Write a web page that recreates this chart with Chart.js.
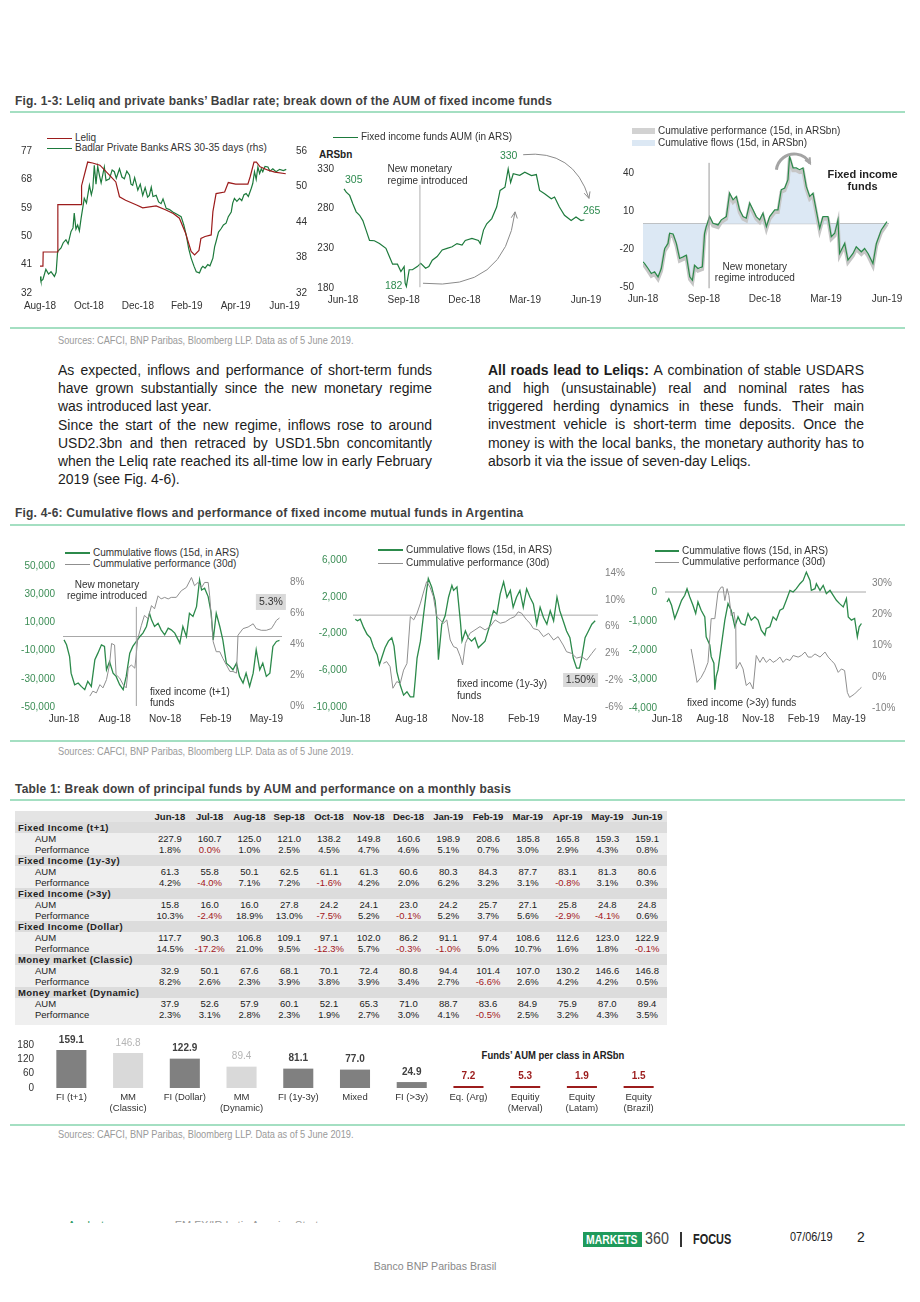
<!DOCTYPE html>
<html>
<head>
<meta charset="utf-8">
<title>Fixed income funds - Argentina</title>
<script src="https://cdn.jsdelivr.net/npm/chart.js@4.4.1/dist/chart.umd.min.js"></script>
<style>
body { margin:0; width:920px; height:1302px; position:relative; overflow:hidden; background:#fff;
  font-family:"Liberation Sans", Arial, sans-serif; color:#1a1a1a; }
.a { position:absolute; white-space:nowrap; }
.sq { transform:scaleX(0.84); transform-origin:0 0; }
.mid { transform:translateX(-50%) scaleX(0.86); }
.fig { left:15px; font-size:12px; line-height:14px; font-weight:bold; color:#404040; letter-spacing:0.2px; }
.rule { position:absolute; left:10px; width:895px; height:2px; background:#a4dfc2; }
.src { left:58px; font-size:10.5px; line-height:12px; color:#9a9a9a; transform:scaleX(0.88); transform-origin:0 0; }
.ln { position:absolute; height:18px; line-height:18px; font-size:15.5px; display:flex; justify-content:space-between; white-space:nowrap;
  transform:scaleX(0.9); transform-origin:0 0; color:#1c1c1c; }
.ln.end { display:block; }
.lg { position:absolute; font-size:10px; line-height:12px; color:#333; white-space:nowrap; }
canvas { position:absolute; }
.trow { position:relative; height:11px; line-height:11px; }
.trow span { position:absolute; top:0; text-align:center; width:39.77px; }
.trow .lab { text-align:left; width:auto; }
</style>
</head>
<body>
<div class="a fig" style="top:94px">Fig. 1-3: Leliq and private banks’ Badlar rate; break down of the AUM of fixed income funds</div>
<div class="rule" style="top:111px"></div>
<div class="rule" style="top:327px"></div>
<div class="a src" style="top:334px">Sources: CAFCI, BNP Paribas, Bloomberg LLP. Data as of 5 June 2019.</div>
<div class="a fig" style="top:506px">Fig. 4-6: Cumulative flows and performance of fixed income mutual funds in Argentina</div>
<div class="rule" style="top:524px"></div>
<div class="rule" style="top:740px"></div>
<div class="a src" style="top:745px">Sources: CAFCI, BNP Paribas, Bloomberg LLP. Data as of 5 June 2019.</div>
<div class="a fig" style="top:782px">Table 1: Break down of principal funds by AUM and performance on a monthly basis</div>
<div class="rule" style="top:799px"></div>
<div class="rule" style="top:1124px"></div>
<div class="a src" style="top:1128px">Sources: CAFCI, BNP Paribas, Bloomberg LLP. Data as of 5 June 2019.</div>

<div class="a" style="left:319px;top:149px;font-size:10px;font-weight:bold;color:#222">ARSbn</div>
<div class="a mid" style="left:553px;top:1049px;font-size:11px;font-weight:bold;color:#222">Funds’ AUM per class in ARSbn</div>

<!-- footer -->
<div class="a" style="left:68px;top:1219px;height:4px;overflow:hidden;font-size:11px;line-height:13px">
  <span style="color:#2a9a63">Analyst name</span><span style="color:#999;margin-left:40px">EM FX/IR Latin America Strategy</span>
</div>
<div class="a" style="left:583px;top:1232px;width:59px;height:15px;background:#1f9a5b;overflow:hidden">
  <div class="a" style="left:3px;top:0;font-weight:bold;font-size:13px;line-height:15px;color:#fff;transform:scaleX(0.8);transform-origin:0 0">MARKETS</div>
</div>
<div class="a sq" style="left:645px;top:1230px;font-size:17px;line-height:18px;color:#444">360</div>
<div class="a" style="left:680px;top:1232px;width:1.5px;height:15px;background:#333"></div>
<div class="a sq" style="left:693px;top:1231px;font-size:14px;line-height:16px;font-weight:bold;color:#222;transform:scaleX(0.78)">FOCUS</div>
<div class="a sq" style="left:790px;top:1229px;font-size:13px;line-height:16px;color:#222">07/06/19</div>
<div class="a" style="left:857px;top:1229px;font-size:14px;line-height:16px;color:#222">2</div>
<div class="a" style="left:435px;top:1259px;font-size:11.5px;line-height:14px;color:#888;transform:translateX(-50%) scaleX(0.92)">Banco BNP Paribas Brasil</div>

<script>
// ---------------- data ----------------
// Fig 1: months since Aug-18, rate in %
const leliqRate = [[0,40.5],[0.12,40.5],[0.13,45],[0.72,45],[0.73,60],[1.68,60],[1.7,66],[1.85,70.5],[1.95,73.5],[2.15,73.2],[2.45,72.5],[2.85,69.3],[3.1,67.2],[3.25,62.5],[3.5,61.4],[3.95,59.9],[4.2,59],[4.75,59.6],[5.15,58.3],[5.45,57.2],[5.7,55.7],[5.95,51],[6.18,45.2],[6.32,44.1],[6.5,45.5],[6.58,49.3],[6.75,49.9],[7.0,50.4],[7.07,57.8],[7.2,63.5],[7.55,64],[7.7,67],[8.0,66.5],[8.5,66.5],[8.6,69],[8.75,73.5],[8.85,73.5],[9.0,72],[9.3,71],[9.6,70.3],[10.05,69.8]];
const badlarRate = [[0,34.8],[0.04,34],[0.12,34.3],[0.24,36],[0.35,35.2],[0.45,35.6],[0.59,34.8],[0.66,35.5],[0.72,39],[0.86,39.6],[0.95,40.5],[1.06,41],[1.15,40.3],[1.27,42.4],[1.35,43],[1.4,45.5],[1.47,42.8],[1.54,43.5],[1.61,42.5],[1.68,44.6],[1.81,48],[1.9,47.2],[2.02,50.2],[2.1,48.6],[2.16,49.7],[2.22,53.6],[2.29,50.4],[2.36,53.4],[2.43,51.9],[2.5,50.6],[2.63,53.3],[2.7,51],[2.84,51.3],[2.95,52.8],[3.04,52.5],[3.12,51.4],[3.25,53],[3.35,51.6],[3.45,51.3],[3.55,52.6],[3.66,51.9],[3.72,50.4],[3.79,50.2],[3.87,51.5],[4.0,49.4],[4.1,50.4],[4.2,48.5],[4.3,49.8],[4.4,48.2],[4.47,48.5],[4.55,49.9],[4.62,48.3],[4.75,48.5],[4.85,47.4],[4.95,47.1],[5.03,47.9],[5.16,46.3],[5.3,46.1],[5.43,45.7],[5.6,45.3],[5.77,44.9],[5.88,43.5],[5.98,41.8],[6.08,39.5],[6.18,37.9],[6.3,36.5],[6.39,35.6],[6.52,35.4],[6.6,36.2],[6.66,36.5],[6.75,36.2],[6.86,36.8],[6.95,36.6],[7.07,37.9],[7.14,39.8],[7.2,40.7],[7.3,42.3],[7.41,42.9],[7.5,43.5],[7.61,43.8],[7.7,44.9],[7.82,45.7],[7.88,47.2],[7.95,48],[8.05,47.5],[8.16,48],[8.25,47.6],[8.34,48.6],[8.43,48.8],[8.52,48.3],[8.64,49.7],[8.7,50.5],[8.77,52.5],[8.84,51.2],[8.91,53.3],[8.98,52.2],[9.05,53.0],[9.11,52.5],[9.2,53.4],[9.32,53.3],[9.4,52.6],[9.52,53],[9.65,52.5],[9.8,52.9],[9.95,52.7],[10.07,52.9]];
const fig1Ticks = [0, 2, 4, 6, 8, 10];
const fig1Labels = ['Aug-18', 'Oct-18', 'Dec-18', 'Feb-19', 'Apr-19', 'Jun-19'];
const fig1LeftTicks = [32, 41, 50, 59, 68, 77];
const fig1RightTicks = [32, 38, 44, 50, 56];

// Fig 2: months since Jun-18, AUM ARSbn
const fundAum = [[0.05,305],[0.16,300.8],[0.33,296.7],[0.49,286],[0.65,276],[0.82,271.7],[0.98,265],[1.14,253],[1.31,240],[1.55,239.6],[1.8,236],[2.12,230],[2.29,219.6],[2.45,210],[2.69,210],[2.86,200.8],[3.02,207],[3.07,186],[3.13,182],[3.27,203],[3.43,203],[3.67,207],[3.84,211],[4.08,205],[4.24,207],[4.41,215],[4.65,219.6],[4.9,228],[5.14,230],[5.39,232],[5.63,236],[5.88,234],[6.04,240],[6.37,242.5],[6.69,240],[6.78,236],[6.94,253],[7.1,261],[7.35,267.5],[7.59,282],[7.76,303],[8.0,307],[8.16,330],[8.28,313],[8.41,324],[8.73,322],[8.98,326],[9.31,321.7],[9.55,323],[9.71,303],[9.96,298.7],[10.29,292.5],[10.45,294.6],[10.69,282],[10.94,271.7],[11.27,265],[11.51,269.6],[11.76,265],[11.92,266]];
const quarterTicks = [0, 3, 6, 9, 12];
const quarterLabels = ['Jun-18', 'Sep-18', 'Dec-18', 'Mar-19', 'Jun-19'];
const fig2Ticks = [180, 230, 280, 330];

// Fig 3: months since Jun-18, cumulative flows ARSbn
const cumFlows = [[0,-30.1],[0.08,-31.5],[0.25,-35.4],[0.41,-39.4],[0.57,-38],[0.74,-42],[0.9,-35.4],[1.07,-19.6],[1.23,-15.6],[1.31,-7.6],[1.48,-8.2],[1.64,-15.6],[1.8,-27.5],[1.97,-26.2],[2.13,-24.9],[2.3,-42],[2.43,-44.7],[2.54,-32.8],[2.7,-35.4],[2.92,-34.1],[3.03,-7.6],[3.11,-2.4],[3.28,5.6],[3.44,0.3],[3.69,-1],[3.85,3],[4.1,5.6],[4.26,24.1],[4.43,18.8],[4.59,21.5],[4.75,10.9],[4.92,5.6],[5.08,4.3],[5.25,16.2],[5.41,10.9],[5.57,5.6],[5.74,3],[5.9,8.2],[6.07,-2.4],[6.23,5.6],[6.48,10.9],[6.64,10.9],[6.8,26.8],[6.97,28.1],[7.13,34.7],[7.21,53.2],[7.38,44],[7.54,44],[7.7,42.6],[7.87,44],[8.03,29.4],[8.2,21.5],[8.36,24.1],[8.61,3],[8.69,-3.7],[8.85,5.6],[9.1,5.6],[9.26,-10.3],[9.43,-7.6],[9.59,3],[9.67,-23.5],[9.92,-15.6],[10.08,-28.8],[10.33,-23.5],[10.49,-18.2],[10.74,-22.2],[10.9,-19.6],[11.07,-23.5],[11.31,-31.5],[11.48,-15.6],[11.72,-5],[11.89,-1],[12.0,1.6]];
const fig3Ticks = [-50, -20, 10, 40];

// Fig 4-6: position on the Jun-18..May-19 tick grid
const flowTicks = [0, 1, 2, 3, 4];
const flowLabels = ['Jun-18', 'Aug-18', 'Nov-18', 'Feb-19', 'May-19'];

const t1Flows = [[0,-2400],[0.05,-5900],[0.11,-14200],[0.14,-26000],[0.21,-34200],[0.28,-33000],[0.34,-35400],[0.41,-37700],[0.47,-31800],[0.54,-35400],[0.61,-16500],[0.67,-11800],[0.74,-5900],[0.8,-7000],[0.84,-23600],[0.9,-17700],[0.97,-26000],[1.03,-28300],[1.1,-34200],[1.17,-37700],[1.23,-28300],[1.3,-11800],[1.36,-7000],[1.43,-3500],[1.5,0],[1.56,2400],[1.63,7100],[1.69,16500],[1.73,11800],[1.79,7100],[1.86,9400],[1.92,4700],[1.99,1200],[2.06,5900],[2.12,4700],[2.19,2400],[2.29,-4700],[2.35,7100],[2.42,0],[2.48,16500],[2.55,14200],[2.62,21200],[2.68,40100],[2.72,33000],[2.78,34200],[2.85,28300],[2.91,16500],[2.95,-2400],[3.01,16500],[3.08,7100],[3.14,-2400],[3.21,-18900],[3.28,-21200],[3.34,-23600],[3.41,-18900],[3.47,-28300],[3.54,-33000],[3.6,-26000],[3.67,-35400],[3.74,-26000],[3.8,-9400],[3.87,-23600],[3.93,-18900],[4.0,-28300],[4.07,-26000],[4.13,-7000],[4.2,-3500],[4.26,-2800]];
const t1Perf = [[0.51,0.64],[0.57,0.96],[0.64,0.85],[0.71,1.38],[0.77,1.17],[0.84,1.7],[0.9,2.65],[0.94,4.03],[1.0,3.93],[1.03,2.02],[1.1,1.8],[1.17,1.38],[1.23,1.17],[1.27,2.44],[1.33,2.65],[1.4,2.44],[1.46,4.35],[1.53,5.2],[1.59,5.84],[1.66,5.63],[1.73,6.47],[1.79,6.26],[1.86,7.1],[1.92,6.9],[1.99,7.0],[2.06,6.9],[2.12,7.0],[2.22,7.0],[2.32,7.43],[2.42,7.64],[2.52,8.28],[2.58,7.75],[2.65,7.96],[2.72,7.64],[2.78,7.96],[2.85,7.96],[2.88,7.1],[2.95,4.14],[3.01,3.5],[3.08,3.5],[3.14,3.08],[3.21,2.65],[3.28,2.23],[3.34,2.23],[3.41,2.12],[3.44,4.56],[3.54,4.99],[3.64,5.09],[3.74,5.3],[3.8,4.99],[3.9,4.88],[4.0,4.88],[4.1,4.99],[4.16,5.3],[4.2,5.52],[4.26,5.67]];
const t1LeftTicks = [-50000, -30000, -10000, 10000, 30000, 50000];
const t1RightTicks = [0, 2, 4, 6, 8];

const midFlows = [[0,-440],[0.04,-620],[0.09,-440],[0.15,-1360],[0.21,-2090],[0.27,-2460],[0.33,-3560],[0.39,-4300],[0.43,-5400],[0.47,-4670],[0.53,-3560],[0.59,-2830],[0.65,-2460],[0.69,-3380],[0.74,-6140],[0.8,-7610],[0.86,-8710],[0.92,-8340],[0.98,-8900],[1.04,-8900],[1.07,-6870],[1.1,-4670],[1.16,-2830],[1.21,-250],[1.27,2690],[1.3,3980],[1.36,3060],[1.42,1590],[1.45,-250],[1.48,-4850],[1.54,-990],[1.6,-70],[1.66,1950],[1.72,3240],[1.75,2690],[1.81,3060],[1.87,-620],[1.9,-2830],[1.96,-1720],[2.01,-2460],[2.07,-2830],[2.13,-2460],[2.19,-3560],[2.25,-3200],[2.31,-2830],[2.4,-990],[2.46,480],[2.52,110],[2.58,2320],[2.64,3610],[2.7,1950],[2.76,2690],[2.81,850],[2.87,1950],[2.93,2690],[2.99,850],[3.05,2870],[3.11,1950],[3.17,1220],[3.23,-990],[3.29,850],[3.35,-250],[3.41,-990],[3.47,480],[3.53,-620],[3.59,1950],[3.64,480],[3.7,-620],[3.76,-1720],[3.82,-2460],[3.88,-4670],[3.94,-5770],[3.99,-5770],[4.03,-4670],[4.09,-2460],[4.15,-1720],[4.21,-990],[4.27,-620]];
const midPerf = [[0.5,0.52],[0.56,0.77],[0.62,0.02],[0.67,-3.2],[0.74,-2.2],[0.8,-2.5],[0.86,-0.5],[0.92,0.5],[0.98,7.5],[1.04,7.0],[1.1,8.0],[1.16,9.5],[1.21,11],[1.27,12.7],[1.33,11.9],[1.39,10.5],[1.45,7.5],[1.51,7.0],[1.57,6.5],[1.63,7.0],[1.69,4.0],[1.75,3.0],[1.81,2.8],[1.87,1.5],[1.91,0.27],[1.96,3.5],[2.04,5.0],[2.13,5.5],[2.22,6.0],[2.31,5.5],[2.4,6.0],[2.49,7.0],[2.58,6.5],[2.67,6.7],[2.76,7.2],[2.84,7.5],[2.9,8.2],[2.96,8.0],[3.05,7.0],[3.11,6.5],[3.17,5.7],[3.26,5.5],[3.35,4.5],[3.44,5.0],[3.53,4.0],[3.61,4.5],[3.7,3.25],[3.76,2.25],[3.85,2.0],[3.94,1.3],[4.03,1.5],[4.12,1.0],[4.21,2.0],[4.28,2.75]];
const midLeftTicks = [-10000, -6000, -2000, 2000, 6000];
const midRightTicks = [-6, -2, 2, 6, 10, 14];

const longFlows = [[0,-343],[0.04,-229],[0.1,-457],[0.17,-914],[0.24,-629],[0.32,-286],[0.39,-114],[0.44,114],[0.5,-171],[0.57,-457],[0.63,-743],[0.68,-343],[0.75,-629],[0.83,-857],[0.86,-1543],[0.94,-1829],[0.97,-2229],[1.03,-2457],[1.05,-3370],[1.08,-2914],[1.12,-2686],[1.19,-1886],[1.27,-971],[1.34,-400],[1.41,-629],[1.49,-1200],[1.56,-857],[1.63,-1086],[1.71,-1143],[1.78,-743],[1.85,-971],[1.93,-857],[2.0,-971],[2.07,-1314],[2.15,-1486],[2.18,-1257],[2.26,-1200],[2.33,-857],[2.4,-971],[2.48,-629],[2.55,-571],[2.62,-286],[2.7,57],[2.77,0],[2.84,114],[2.92,286],[2.99,400],[3.06,686],[3.14,400],[3.17,57],[3.25,114],[3.28,286],[3.36,57],[3.43,229],[3.5,-57],[3.58,57],[3.65,-114],[3.72,-286],[3.79,-400],[3.87,-514],[3.94,-229],[3.98,-857],[4.05,-971],[4.12,-914],[4.18,-1543],[4.22,-1200],[4.27,-1086]];
const longPerf = [[0.53,8.9],[0.59,4.1],[0.66,-1.8],[0.75,-0.2],[0.83,2.0],[0.9,4.6],[0.97,18.6],[1.05,18.6],[1.12,27.1],[1.19,28.7],[1.23,28.7],[1.27,24.4],[1.32,28.2],[1.36,26.0],[1.41,19.6],[1.47,20.7],[1.51,16.4],[1.52,2.5],[1.6,4.6],[1.67,2.5],[1.74,-2.8],[1.82,-1.8],[1.89,-3.9],[1.96,6.8],[2.04,4.6],[2.11,6.3],[2.18,4.6],[2.26,5.7],[2.33,4.6],[2.4,5.2],[2.48,6.3],[2.55,4.6],[2.62,5.7],[2.7,5.2],[2.77,6.8],[2.88,6.3],[2.95,6.8],[3.03,7.9],[3.1,6.3],[3.17,6.3],[3.25,7.3],[3.36,6.3],[3.47,7.9],[3.54,6.3],[3.61,5.2],[3.68,4.1],[3.76,1.4],[3.83,2.5],[3.9,2.0],[3.96,-5.0],[4.01,-6.6],[4.12,-5.5],[4.23,-3.9],[4.27,-3.4]];
const longLeftTicks = [-4000, -3000, -2000, -1000, 0];
const longRightTicks = [-10, 0, 10, 20, 30];

// Table 1
const months = ['Jun-18','Jul-18','Aug-18','Sep-18','Oct-18','Nov-18','Dec-18','Jan-19','Feb-19','Mar-19','Apr-19','May-19','Jun-19'];
const fundNames = ['Fixed Income (t+1)', 'Fixed Income (1y-3y)', 'Fixed Income (>3y)', 'Fixed Income (Dollar)', 'Money market (Classic)', 'Money market (Dynamic)'];
const aumT1 = [227.9,160.7,125.0,121.0,138.2,149.8,160.6,198.9,208.6,185.8,165.8,159.3,159.1];
const perfT1 = [1.8,0.0,1.0,2.5,4.5,4.7,4.6,5.1,0.7,3.0,2.9,4.3,0.8];
const aumMid = [61.3,55.8,50.1,62.5,61.1,61.3,60.6,80.3,84.3,87.7,83.1,81.3,80.6];
const perfMid = [4.2,-4.0,7.1,7.2,-1.6,4.2,2.0,6.2,3.2,3.1,-0.8,3.1,0.3];
const aumLong = [15.8,16.0,16.0,27.8,24.2,24.1,23.0,24.2,25.7,27.1,25.8,24.8,24.8];
const perfLong = [10.3,-2.4,18.9,13.0,-7.5,5.2,-0.1,5.2,3.7,5.6,-2.9,-4.1,0.6];
const aumUsd = [117.7,90.3,106.8,109.1,97.1,102.0,86.2,91.1,97.4,108.6,112.6,123.0,122.9];
const perfUsd = [14.5,-17.2,21.0,9.5,-12.3,5.7,-0.3,-1.0,5.0,10.7,1.6,1.8,-0.1];
const aumMmc = [32.9,50.1,67.6,68.1,70.1,72.4,80.8,94.4,101.4,107.0,130.2,146.6,146.8];
const perfMmc = [8.2,2.6,2.3,3.9,3.8,3.9,3.4,2.7,-6.6,2.6,4.2,4.2,0.5];
const aumMmd = [37.9,52.6,57.9,60.1,52.1,65.3,71.0,88.7,83.6,84.9,75.9,87.0,89.4];
const perfMmd = [2.3,3.1,2.8,2.3,1.9,2.7,3.0,4.1,-0.5,2.5,3.2,4.3,3.5];

// Bar chart: AUM per class
const barCats = [['FI (t+1)'],['MM','(Classic)'],['FI (Dollar)'],['MM','(Dynamic)'],['FI (1y-3y)'],['Mixed'],['FI (>3y)'],['Eq. (Arg)'],['Equitiy','(Merval)'],['Equity','(Latam)'],['Equity','(Brazil)']];
const barVals = [159.1, 146.8, 122.9, 89.4, 81.1, 77.0, 24.9, 7.2, 5.3, 1.9, 1.5];
const barKinds = ['fi','mm','fi','mm','fi','fi','fi','eq','eq','eq','eq'];
const barTicks = [0, 60, 120, 180];

// ---------------- helpers ----------------
const sans = '"Liberation Sans", Arial, sans-serif';
Chart.defaults.font.family = sans;
Chart.defaults.font.size = 10;
Chart.defaults.color = '#333';

const GREEN = '#1d7a3c', FLOW = '#2c8a4b', GREY = '#8f8f8f', RED = '#9c1c1c';

function el(tag, cls, css, html) {
  const d = document.createElement(tag);
  if (cls) d.className = cls;
  d.style.cssText = css;
  if (html !== undefined) d.innerHTML = html;
  document.body.appendChild(d);
  return d;
}
function canvasAt(x, y, w, h) {
  const c = el('canvas', '', `left:${x}px;top:${y}px;width:${w}px;height:${h}px`);
  c.width = w; c.height = h;
  return c;
}
const ticksAt = vals => s => { s.ticks = vals.map(v => ({ value: v })); };
const toPts = arr => arr.map(p => ({ x: p[0], y: p[1] }));
const noGrid = { display: false, drawTicks: false };

function txt(ctx, s, x, y, o = {}) {
  ctx.font = o.font || '10px ' + sans;
  ctx.fillStyle = o.color || '#333';
  ctx.textAlign = o.align || 'left';
  ctx.textBaseline = 'middle';
  ctx.fillText(s, x, y);
}
function seg(ctx, x1, y1, x2, y2, color, w) {
  ctx.strokeStyle = color; ctx.lineWidth = w || 1;
  ctx.beginPath(); ctx.moveTo(x1, y1); ctx.lineTo(x2, y2); ctx.stroke();
}
function head(ctx, x, y, ang, size) {
  ctx.beginPath();
  ctx.moveTo(x - size * Math.cos(ang - 0.45), y - size * Math.sin(ang - 0.45));
  ctx.lineTo(x, y);
  ctx.lineTo(x - size * Math.cos(ang + 0.45), y - size * Math.sin(ang + 0.45));
  ctx.stroke();
}
function curveArrow(ctx, x0, y0, cx, cy, x1, y1) {
  ctx.strokeStyle = '#8a8a8a'; ctx.lineWidth = 1;
  ctx.beginPath(); ctx.moveTo(x0, y0); ctx.quadraticCurveTo(cx, cy, x1, y1); ctx.stroke();
  head(ctx, x1, y1, Math.atan2(y1 - cy, x1 - cx), 7);
}
function tag(ctx, s, x, y, w, h) {
  ctx.fillStyle = '#d9d9d9';
  ctx.fillRect(x - w / 2, y - h / 2, w, h);
  txt(ctx, s, x, y, { align: 'center', font: '10.5px ' + sans });
}
// zero line under the series, notes on top
const zeroLine = { id: 'zeroLine', beforeDatasetsDraw(chart) {
  const a = chart.chartArea, y = chart.scales.y.getPixelForValue(0);
  seg(chart.ctx, a.left, y, a.right, y, '#a8a8a8', 1);
} };
const notes = draw => ({ id: 'notes', afterDatasetsDraw(chart) {
  const ctx = chart.ctx; ctx.save();
  draw(ctx, chart.scales, chart.chartArea);
  ctx.restore();
} });

function legendLine(x, y, w, color, thick, label) {
  el('div', '', `position:absolute;left:${x}px;top:${y - thick / 2}px;width:${w}px;height:${thick}px;background:${color}`);
  el('div', 'lg', `left:${x + w + 3}px;top:${y - 6}px`, label);
}
function legendBox(x, y, w, color, label) {
  el('div', '', `position:absolute;left:${x}px;top:${y - 3}px;width:${w}px;height:6px;background:${color}`);
  el('div', 'lg', `left:${x + w + 3}px;top:${y - 6}px`, label);
}

// box = canvas rect on the page, plot = wanted plot area [left, top, right, bottom]
function makeLine(box, plot, sp) {
  const [bx, by, bw, bh] = box, [pl, pt, pr, pb] = plot;
  const cv = canvasAt(bx, by, bw, bh);
  const scales = {
    x: { type: 'linear', min: sp.xMin, max: sp.xMax, afterBuildTicks: ticksAt(sp.xTicks),
      afterFit: s => { s.height = by + bh - pb; }, grid: noGrid, border: { display: false },
      ticks: { padding: sp.xPad, maxRotation: 0, autoSkip: false, color: '#333', font: { size: 10 },
        callback: (v, i) => sp.xLabels[i] } },
    y: { position: 'left', min: sp.yMin, max: sp.yMax, afterBuildTicks: ticksAt(sp.yTicks),
      afterFit: s => { s.width = pl - bx; }, grid: noGrid, border: { display: false },
      ticks: { padding: sp.yPad, autoSkip: false, color: sp.yColor || '#333', font: { size: 10 }, callback: sp.yFmt || (v => v) } }
  };
  if (sp.y2Ticks) {
    scales.y2 = { position: 'right', min: sp.y2Min, max: sp.y2Max, afterBuildTicks: ticksAt(sp.y2Ticks),
      afterFit: s => { s.width = bx + bw - pr; }, grid: noGrid, border: { display: false },
      ticks: { padding: sp.y2Pad, autoSkip: false, color: sp.y2Color || '#333', font: { size: 10 }, callback: sp.y2Fmt || (v => v) } };
  }
  return new Chart(cv, {
    type: 'line',
    data: { datasets: sp.datasets },
    options: {
      responsive: false, animation: false, events: [],
      layout: { padding: { top: pt - by, right: sp.y2Ticks ? 0 : bx + bw - pr, left: 0, bottom: 0 } },
      scales,
      elements: { point: { radius: 0 }, line: { borderWidth: 1.2, tension: 0 } },
      plugins: { legend: { display: false }, tooltip: { enabled: false } }
    },
    plugins: sp.plugins || []
  });
}
const pct = v => v + '%';
const thousands = v => v.toLocaleString('en-US');

// ---------------- Fig 1 ----------------
legendLine(47, 138, 25, RED, 1, 'Leliq');
legendLine(47, 148, 25, GREEN, 1, 'Badlar Private Banks ARS 30-35 days (rhs)');
makeLine([0, 120, 310, 200], [40, 151, 287, 293], {
  xMin: 0, xMax: 10.1, xTicks: fig1Ticks, xLabels: fig1Labels, xPad: 7,
  yMin: 32, yMax: 77, yTicks: fig1LeftTicks, yPad: 8,
  y2Min: 32, y2Max: 56, y2Ticks: fig1RightTicks, y2Pad: 9,
  datasets: [
    { data: toPts(leliqRate), borderColor: RED, yAxisID: 'y' },
    { data: toPts(badlarRate), borderColor: GREEN, yAxisID: 'y2' }
  ]
});

// ---------------- Fig 2 ----------------
legendLine(333, 137, 25, GREEN, 1, 'Fixed income funds AUM (in ARS)');
makeLine([300, 120, 310, 200], [343, 169, 592, 288], {
  xMin: 0, xMax: 12.3, xTicks: quarterTicks, xLabels: quarterLabels, xPad: 6,
  yMin: 180, yMax: 330, yTicks: fig2Ticks, yPad: 9,
  datasets: [{ data: toPts(fundAum), borderColor: GREEN, clip: false }],
  plugins: [notes((ctx, s) => {
    const X = v => s.x.getPixelForValue(v), Y = v => s.y.getPixelForValue(v);
    seg(ctx, X(3.8), Y(310), X(3.8), Y(181), '#b0b0b0', 1);
    txt(ctx, 'New monetary', X(2.2), Y(330));
    txt(ctx, 'regime introduced', X(2.2), Y(315));
    const g = { color: '#2e8b4f', font: '10.5px ' + sans };
    txt(ctx, '305', X(0.1), Y(316), g);
    txt(ctx, '182', X(2.07), Y(183), g);
    txt(ctx, '330', X(7.75), Y(346), g);
    txt(ctx, '265', X(11.85), Y(277), g);
    curveArrow(ctx, X(3.95), Y(186), X(8.0), Y(175), X(8.5), Y(276));
    curveArrow(ctx, X(8.9), Y(348), X(11.4), Y(355), X(12.15), Y(293));
  })]
});

// ---------------- Fig 3 ----------------
legendBox(632, 131, 23, '#d2d2d2', 'Cumulative performance (15d, in ARSbn)');
legendBox(632, 143, 23, '#dce8f4', 'Cumulative flows (15d, in ARSbn)');
const haloShift = { id: 'haloShift',
  beforeDatasetDraw(chart, args) { if (args.index === 1) { chart.ctx.save(); chart.ctx.translate(0, 2.5); } },
  afterDatasetDraw(chart, args) { if (args.index === 1) chart.ctx.restore(); } };
makeLine([610, 120, 300, 200], [643, 155, 889, 287], {
  xMin: 0, xMax: 12.1, xTicks: quarterTicks, xLabels: quarterLabels, xPad: 6,
  yMin: -50, yMax: 54.2, yTicks: fig3Ticks, yPad: 9,
  datasets: [
    { data: toPts(cumFlows), borderWidth: 0, borderColor: 'rgba(0,0,0,0)', fill: 'origin', backgroundColor: '#dce8f4', order: 3 },
    { data: toPts(cumFlows), borderColor: '#c6c6c6', borderWidth: 3.5, order: 2 },
    { data: toPts(cumFlows), borderColor: FLOW, borderWidth: 1.2, order: 1 }
  ],
  plugins: [zeroLine, haloShift, notes((ctx, s) => {
    const X = v => s.x.getPixelForValue(v), Y = v => s.y.getPixelForValue(v);
    seg(ctx, X(3.25), Y(48), X(3.25), Y(-51), '#9a9a9a', 1);
    txt(ctx, 'New monetary', X(5.5), Y(-34.2), { align: 'center' });
    txt(ctx, 'regime introduced', X(5.5), Y(-42.9), { align: 'center' });
    const b = { align: 'center', font: 'bold 11px ' + sans, color: '#222' };
    txt(ctx, 'Fixed income', X(10.8), Y(38.4), b);
    txt(ctx, 'funds', X(10.8), Y(29), b);
    const cx = X(7.44), cy = Y(40.8), r = 18, a0 = Math.PI * 1.04, a1 = Math.PI * 1.84;
    ctx.strokeStyle = '#a4a4a4'; ctx.lineWidth = 3;
    ctx.beginPath(); ctx.arc(cx, cy, r, a0, a1, false); ctx.stroke();
    ctx.lineWidth = 2;
    head(ctx, cx + r * Math.cos(a1), cy + r * Math.sin(a1), a1 + Math.PI / 2, 6);
  })]
});

// ---------------- Fig 4 ----------------
legendLine(65, 553, 25, FLOW, 2, 'Cummulative flows (15d, in ARS)');
legendLine(65, 564, 25, GREY, 1, 'Cummulative performance (30d)');
makeLine([0, 540, 310, 190], [63, 566, 282, 707], {
  xMin: -0.02, xMax: 4.31, xTicks: flowTicks, xLabels: flowLabels, xPad: 6,
  yMin: -50000, yMax: 50000, yTicks: t1LeftTicks, yPad: 8, yColor: '#3b8d55', yFmt: thousands,
  y2Min: -0.06, y2Max: 9.02, y2Ticks: t1RightTicks, y2Pad: 8, y2Color: '#808080', y2Fmt: pct,
  datasets: [
    { data: toPts(t1Perf), borderColor: GREY, borderWidth: 1, yAxisID: 'y2' },
    { data: toPts(t1Flows), borderColor: FLOW, borderWidth: 1.3, yAxisID: 'y' }
  ],
  plugins: [zeroLine, notes((ctx, s) => {
    const X = v => s.x.getPixelForValue(v), Y = v => s.y.getPixelForValue(v);
    seg(ctx, X(1.43), Y(21000), X(1.43), Y(-49300), '#a0a0a0', 1);
    txt(ctx, 'New monetary', X(0.85), Y(36500), { align: 'center' });
    txt(ctx, 'regime introduced', X(0.85), Y(28700), { align: 'center' });
    txt(ctx, 'fixed income (t+1)', X(1.7), Y(-39400));
    txt(ctx, 'funds', X(1.7), Y(-47200));
    tag(ctx, '5.3%', X(4.09), Y(24500), 30, 16);
  })]
});

// ---------------- Fig 5 ----------------
legendLine(378, 550, 25, FLOW, 2, 'Cummulative flows (15d, in ARS)');
legendLine(378, 563, 25, GREY, 1, 'Cummulative performance (30d)');
makeLine([300, 540, 330, 190], [353, 560, 598, 707], {
  xMin: -0.04, xMax: 4.32, xTicks: flowTicks, xLabels: flowLabels, xPad: 6,
  yMin: -10000, yMax: 6000, yTicks: midLeftTicks, yPad: 6, yColor: '#3b8d55', yFmt: thousands,
  y2Min: -6, y2Max: 15.94, y2Ticks: midRightTicks, y2Pad: 7, y2Color: '#808080', y2Fmt: pct,
  datasets: [
    { data: toPts(midPerf), borderColor: GREY, borderWidth: 1, yAxisID: 'y2' },
    { data: toPts(midFlows), borderColor: FLOW, borderWidth: 1.3, yAxisID: 'y' }
  ],
  plugins: [zeroLine, notes((ctx, s) => {
    const X = v => s.x.getPixelForValue(v), Y = v => s.y.getPixelForValue(v);
    txt(ctx, 'fixed income (1y-3y)', X(1.81), Y(-7490));
    txt(ctx, 'funds', X(1.81), Y(-8800));
    tag(ctx, '1.50%', X(4.01), Y(-7060), 35, 14);
  })]
});

// ---------------- Fig 6 ----------------
legendLine(655, 551, 24, FLOW, 2, 'Cummulative flows (15d, in ARS)');
legendLine(655, 562, 24, GREY, 1, 'Cummulative performance (30d)');
makeLine([610, 540, 300, 190], [665, 570, 866, 708], {
  xMin: -0.044, xMax: 4.37, xTicks: flowTicks, xLabels: flowLabels, xPad: 5,
  yMin: -4000, yMax: 759, yTicks: longLeftTicks, yPad: 8, yColor: '#3b8d55', yFmt: thousands,
  y2Min: -10, y2Max: 34.16, y2Ticks: longRightTicks, y2Pad: 6, y2Color: '#808080', y2Fmt: pct,
  datasets: [
    { data: toPts(longPerf), borderColor: GREY, borderWidth: 1, yAxisID: 'y2' },
    { data: toPts(longFlows), borderColor: FLOW, borderWidth: 1.3, yAxisID: 'y' }
  ],
  plugins: [zeroLine, notes((ctx, s) => {
    txt(ctx, 'fixed income (>3y) funds', s.x.getPixelForValue(0.44), s.y.getPixelForValue(-3830));
  })]
});

// ---------------- body text ----------------
const leftCol = [
  ['As expected, inflows and performance of short-term funds', 361],
  ['have grown substantially since the new monetary regime', 379],
  ['was introduced last year.', 397, true],
  ['Since the start of the new regime, inflows rose to around', 416],
  ['USD2.3bn and then retraced by USD1.5bn concomitantly', 434],
  ['when the Leliq rate reached its all-time low in early February', 452],
  ['2019 (see Fig. 4-6).', 470, true]
];
const rightCol = [
  ['<b>All</b> <b>roads</b> <b>lead</b> <b>to</b> <b>Leliqs:</b> A combination of stable USDARS', 361],
  ['and high (unsustainable) real and nominal rates has', 379],
  ['triggered herding dynamics in these funds. Their main', 397],
  ['investment vehicle is short-term time deposits. Once the', 415],
  ['money is with the local banks, the monetary authority has to', 434],
  ['absorb it via the issue of seven-day Leliqs.', 452, true]
];
function textLines(lines, x, w) {
  lines.forEach(([s, top, end]) => {
    const d = el('div', 'ln' + (end ? ' end' : ''), `left:${x}px;top:${top}px;width:${(w / 0.9).toFixed(1)}px`);
    if (end) { d.innerHTML = s; return; }
    s.split(' ').forEach(word => {
      const sp = document.createElement('span');
      sp.innerHTML = word;
      d.appendChild(sp);
    });
  });
}
textLines(leftCol, 58, 374);
textLines(rightCol, 488, 376);

// ---------------- Table 1 ----------------
const table = el('div', '', 'position:absolute;left:15px;top:811px;width:652px;height:214px;background:#efefef;font-size:9.5px;color:#222');
function tableRow(bg, label, labelLeft, bold, cells, fmt) {
  const r = document.createElement('div');
  r.className = 'trow';
  r.style.background = bg;
  let html = `<span class="lab" style="left:${labelLeft}px;${bold ? 'font-weight:bold;letter-spacing:0.4px' : ''}">${label}</span>`;
  cells.forEach((c, i) => {
    const red = fmt === 'pct' && c <= 0;
    const s = fmt === 'pct' ? c.toFixed(1) + '%' : fmt === 'num' ? c.toFixed(1) : c;
    html += `<span style="left:${135 + i * 39.77}px;${red ? 'color:#a3161a;' : ''}${fmt === 'head' ? 'font-weight:bold;' : ''}">${s}</span>`;
  });
  r.innerHTML = html;
  table.appendChild(r);
}
tableRow('#e4e4e4', '', 3, true, months, 'head');
const tableFunds = [[aumT1, perfT1], [aumMid, perfMid], [aumLong, perfLong], [aumUsd, perfUsd], [aumMmc, perfMmc], [aumMmd, perfMmd]];
tableFunds.forEach(([aum, perf], i) => {
  tableRow('#dcdcdc', fundNames[i], 3, true, [], '');
  tableRow('#efefef', 'AUM', 20, false, aum, 'num');
  tableRow('#efefef', 'Performance', 20, false, perf, 'pct');
});

// ---------------- Bar chart ----------------
const barFill = { fi: '#808080', mm: '#d9d9d9', eq: '#9c1c1c' };
const barInk = { fi: '#404040', mm: '#b4b4b4', eq: '#9c1c1c' };
const barValues = { id: 'barValues', afterDatasetsDraw(chart) {
  const ctx = chart.ctx;
  chart.getDatasetMeta(0).data.forEach((bar, i) => {
    const k = barKinds[i];
    txt(ctx, barVals[i].toFixed(1), bar.x, bar.y - 10,
      { align: 'center', color: barInk[k], font: (k === 'mm' ? '' : 'bold ') + '10px ' + sans });
  });
} };
new Chart(canvasAt(0, 1030, 680, 95), {
  type: 'bar',
  data: { labels: barCats, datasets: [{ data: barVals, backgroundColor: barKinds.map(k => barFill[k]),
    barPercentage: 0.53, categoryPercentage: 1, minBarLength: 2 }] },
  options: {
    responsive: false, animation: false, events: [],
    layout: { padding: { top: 14, right: 13, left: 0, bottom: 0 } },
    scales: {
      x: { grid: noGrid, border: { display: false }, afterFit: s => { s.height = 37; },
        ticks: { padding: 4, maxRotation: 0, autoSkip: false, color: '#333', font: { size: 9.5, lineHeight: 1.15 } } },
      y: { min: 0, max: 180, afterBuildTicks: ticksAt(barTicks), afterFit: s => { s.width = 43; },
        grid: noGrid, border: { display: false }, ticks: { padding: 9, autoSkip: false, color: '#333', font: { size: 10 } } }
    },
    plugins: { legend: { display: false }, tooltip: { enabled: false } }
  },
  plugins: [barValues]
});
</script>
</body>
</html>
